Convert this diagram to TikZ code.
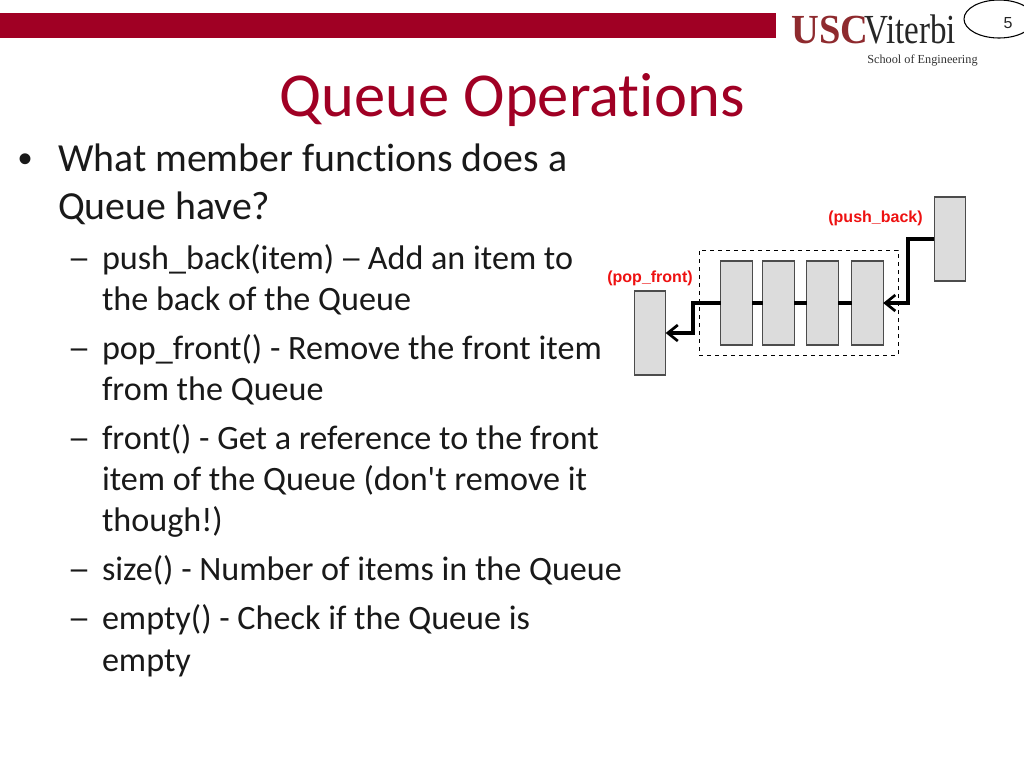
\documentclass[tikz,border=0pt]{standalone}
\usepackage{graphicx}
\usepackage{fontspec}
\newfontfamily\carl[Ligatures=NoCommon]{Carlito}
\newfontfamily\arialf{Liberation Sans}
\newfontfamily\serf{Liberation Serif}
\usetikzlibrary{arrows.meta,shapes.geometric}
\definecolor{uscred}{HTML}{A00024}
\definecolor{boxgray}{HTML}{DCDCDC}
\definecolor{logored}{HTML}{8E2A2E}
\definecolor{lblred}{HTML}{EE1111}
\newcommand{\fs}[1]{\fontsize{#1}{#1}\selectfont}
\newcommand{\wdash}{\kern-2.6pt\scalebox{1.35}[1]{–}\kern-2.6pt}
\newcommand{\idash}{\kern-1.6pt\scalebox{1.35}[1]{–}\kern-2pt}
\tikzset{
 x=0.75pt,y=-0.75pt,
 txt/.style={anchor=base west,inner sep=0pt,outer sep=0pt,text=black!90},
 main/.style={txt,font=\carl\fs{29.85pt}},
 sub/.style={txt,font=\carl\fs{25.6pt}},
 qbox/.style={draw=black!70,fill=boxgray,line width=0.9pt,minimum width=23.5pt,minimum height=63pt,inner sep=0pt,outer sep=0pt},
 lbl/.style={anchor=base,inner sep=0pt,text=lblred,font=\arialf\bfseries\fs{12pt}},
 conn/.style={line width=2.5pt,black},
 arr/.style={conn,-{Straight Barb[length=7.5pt,width=12pt,line width=2pt]}},
}
\begin{document}
\begin{tikzpicture}
\useasboundingbox (0,0) rectangle (1024,768);
\fill[white] (0,0) rectangle (1024,768);
\fill[uscred] (0,13) rectangle (776,38);
% logo
\node[anchor=base west,inner sep=0pt,text=logored] (usc) at (791,43) {\scalebox{0.93}[1]{\serf\bfseries\fs{31pt}USC}};
\node[anchor=base west,inner sep=0pt,text=black!85] (vit) at (864,43) {\scalebox{0.8}[1]{\serf\fs{31pt}Viterbi}};
\node[anchor=base west,inner sep=0pt,text=black!80] (soe) at (867,63) {\serf\fs{9.2pt}School of Engineering};
\node[draw=black,ellipse,line width=0.8pt,minimum width=52.5pt,minimum height=28.5pt,inner sep=0pt,fill=white] (pg) at (999,19) {};
\node[anchor=base,inner sep=0pt,text=black!85,font=\arialf\fs{12pt}] (pgn) at (1008,28) {5};
% title
\node[anchor=base,inner sep=0pt,text=uscred,font=\carl\fs{46.9pt}] (title) at (512,116) {Queue Operations};
% bullets
\node[txt,font=\arialf\fs{30pt}] (b0) at (18,172) {•};
\node[main] (l1) at (58,171) {What member functions does a};
\node[main] (l2) at (58,219) {Queue have?};
\foreach \n/\xx/\yy/\t in {
 d1/71/269/\wdash, s1/102/269/{push\_back(item) \idash{} Add an item to}, s1b/102/310/{the back of the Queue},
 d2/71/359/\wdash, s2/102/359/{pop\_front() - Remove the front item}, s2b/102/400/{from the Queue},
 d3/71/449/\wdash, s3/102/449/{front() - Get a reference to the front}, s3b/102/490/{item of the Queue (don't remove it}, s3c/102/531/{though!)},
 d4/71/580/\wdash, s4/102/580/{size() - Number of items in the Queue},
 d5/71/629/\wdash, s5/102/629/{empty() - Check if the Queue is}, s5b/102/671/{empty}}
 {\node[sub] (\n) at (\xx,\yy) {\t};}
% diagram
\node[draw=black,dashed,line width=0.7pt,minimum width=149.25pt,minimum height=78.75pt,inner sep=0pt] (dash) at (798.5,302.5) {};
\coordinate (e1) at (908,239);
\coordinate (e2) at (908,303);
\coordinate (e3) at (693,303);
\coordinate (e4) at (693,333);
\node[qbox] (q1) at (736.5,303) {};
\node[qbox] (q2) at (778.5,303) {};
\node[qbox] (q3) at (822.5,303) {};
\node[qbox] (q4) at (867.5,303) {};
\node[qbox] (pop) at (650,333) {};
\node[qbox] (push) at (950,239) {};
\draw[conn] (q1) -- (q2);
\draw[conn] (q2) -- (q3);
\draw[conn] (q3) -- (q4);
\draw[arr,line join=miter] (push.west) -- (e1) -- (e2) -- (q4.east);
\draw[arr,line join=miter] (q1.west) -- (e3) -- (e4) -- (pop.east);
\node[lbl] (lpush) at (875.5,222) {(push\_back)};
\node[lbl] (lpop) at (650,282) {(pop\_front)};
\end{tikzpicture}
\end{document}
